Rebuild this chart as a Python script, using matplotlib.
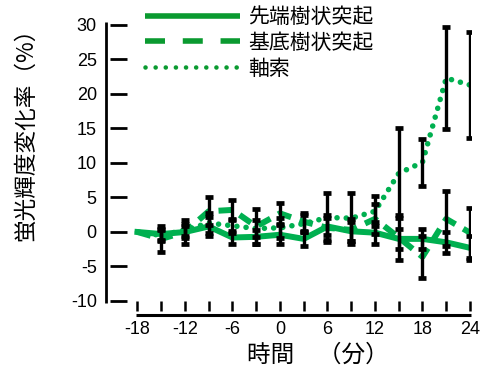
import matplotlib
matplotlib.use("Agg")
import matplotlib.pyplot as plt
from matplotlib.lines import Line2D
from matplotlib.font_manager import FontProperties
import matplotlib.transforms as mtransforms

# ---- data ----
minutes = [-18, -15, -12, -9, -6, -3, 0, 3, 6, 9, 12, 15, 18, 21, 24]
apical = [0, -0.3, 0.0, 0.8, -0.8, -0.7, -0.4, -1.0, 0.8, 0.1, -0.1, -1.0, -1.0, -1.5, -2.3]
apical_err = [0, 0.8, 0.8, 1.4, 1.0, 1.0, 1.4, 1.0, 1.2, 1.4, 1.6, 1.5, 1.5, 1.5, 1.7]
basal = [0, -1.0, 0.0, 3.0, 3.2, 0.8, 2.7, 1.5, 0.6, 0.3, 1.9, -0.8, -3.6, 1.9, -0.1]
basal_err = [0, 1.9, 1.7, 2.0, 1.5, 2.6, 1.5, 1.3, 1.8, 1.6, 2.2, 3.2, 3.0, 4.0, 3.6]
axon = [0, -0.5, 0.3, 1.3, 0.9, 0.5, 0.6, 1.2, 2.1, 2.0, 3.0, 8.5, 10.1, 22.3, 21.3]
axon_err = [0, 0.8, 0.9, 1.5, 1.0, 1.2, 1.4, 1.2, 3.6, 3.7, 2.2, 6.5, 3.4, 7.4, 7.7]
series_names = ["先端樹状突起", "基底樹状突起", "軸索"]
yticks = [-10, -5, 0, 5, 10, 15, 20, 25, 30]
xticks = [-18, -15, -12, -9, -6, -3, 0, 3, 6, 9, 12, 15, 18, 21, 24]
xticklabels = ["-18", "", "-12", "", "-6", "", "0", "", "6", "", "12", "", "18", "", "24"]
ylabel = "蛍光輝度変化率（%）"
xlabel = "時間　（分）"

plt.rcParams["font.family"] = ["Liberation Sans", "Noto Sans CJK JP"]
CJK = "Noto Sans CJK JP"

W_PX, H_PX = 485, 365
fig = plt.figure(figsize=(W_PX / 100, H_PX / 100), dpi=100)

left, right, top, bottom = 110, 471, 22, 311
ax = fig.add_axes([left / W_PX, 1 - bottom / H_PX, (right - left) / W_PX, (bottom - top) / H_PX])
ax.set_xlim(-21.47, 24.13)
ax.set_ylim(-11.45, 30.43)

green = "#00b050"
ax.plot(minutes, apical, color=green, lw=4.3, solid_joinstyle="round", zorder=2)
ax.plot(minutes, basal, color=green, lw=4.3, linestyle=(0, (2.3, 1.5)), zorder=2)
ax.plot(minutes, axon, color=green, lw=4.0, linestyle=(0, (0.01, 1.65)),
        dash_capstyle="round", zorder=2)

for vals, errs in [(apical, apical_err), (basal, basal_err), (axon, axon_err)]:
    ax.errorbar(minutes[1:], vals[1:], yerr=errs[1:], fmt="none", ecolor="black",
                elinewidth=2.4, capsize=2.8, capthick=3.4, zorder=3)

for s in ax.spines.values():
    s.set_visible(False)

# detached spines
off_l = mtransforms.ScaledTranslation(-4 / 100, 0, fig.dpi_scale_trans)
off_b = mtransforms.ScaledTranslation(0, -4 / 100, fig.dpi_scale_trans)
ax.add_line(Line2D([0, 0], [-10.3, 30.43], transform=ax.get_yaxis_transform() + off_l,
                   color="black", lw=2.0, clip_on=False, solid_capstyle="butt"))
ax.add_line(Line2D([-18.2, 24.13], [0, 0], transform=ax.get_xaxis_transform() + off_b,
                   color="black", lw=2.2, clip_on=False, solid_capstyle="butt"))

ax.set_yticks(yticks)
ax.set_yticklabels([str(v) for v in yticks])
ax.set_xticks(xticks)
ax.set_xticklabels(xticklabels)
ax.tick_params(axis="y", direction="in", length=12, width=2.0, pad=9.5, labelsize=13)
ax.tick_params(axis="x", direction="in", length=7.2, width=1.8, pad=7, labelsize=13)

fig.text(26 / W_PX, 1 - 128.5 / H_PX, ylabel, rotation=90, ha="center", va="center",
         fontsize=16.3, family=CJK)
fig.text(247 / W_PX, 3.5 / H_PX, xlabel, ha="left", va="baseline", fontsize=17, family=CJK)

leg_green = "#0a9a30"
handles = [
    Line2D([], [], color=leg_green, lw=4.0, solid_capstyle="butt"),
    Line2D([], [], color=leg_green, lw=4.0, linestyle=(0, (3.6, 3.2))),
    Line2D([], [], color=leg_green, lw=3.3, linestyle=(0, (0.01, 2.2)), dash_capstyle="round"),
]
ax.legend(handles, series_names, prop=FontProperties(family=CJK, size=15), frameon=False,
          loc="upper left", bbox_to_anchor=(145 / W_PX, 1 - 6 / H_PX),
          bbox_transform=fig.transFigure, handlelength=4.57, handletextpad=0.38,
          labelspacing=0.18, borderpad=0, borderaxespad=0)

fig.savefig("out.png", dpi=100)
